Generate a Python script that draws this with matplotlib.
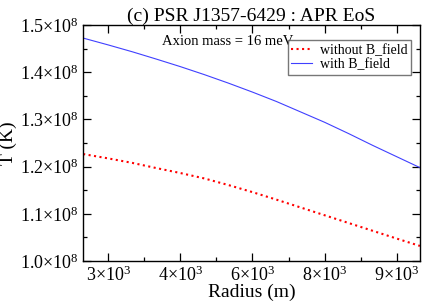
import numpy as np
import matplotlib
matplotlib.use('Agg')
import matplotlib.pyplot as plt
from matplotlib.ticker import FixedLocator, FixedFormatter, MultipleLocator

plt.rcParams['font.family'] = 'Liberation Serif'
plt.rcParams['mathtext.fontset'] = 'custom'
plt.rcParams['mathtext.rm'] = 'Liberation Serif'
plt.rcParams['mathtext.it'] = 'Liberation Serif:italic'

# ---------------------------- data

radius = [2480, 3000, 3500, 4000, 4500, 5000, 5500, 6000, 6500, 7000,
          7500, 8000, 8500, 9000, 9480]
T_no_B = [1.2267e8, 1.2175e8, 1.208e8, 1.197e8, 1.1865e8, 1.175e8, 1.161e8, 1.146e8,
          1.130e8, 1.1135e8, 1.097e8, 1.0805e8, 1.064e8, 1.0475e8, 1.032e8]
T_with_B = [1.4725e8, 1.458e8, 1.4435e8, 1.428e8, 1.412e8, 1.395e8, 1.377e8, 1.358e8,
            1.338e8, 1.316e8, 1.294e8, 1.270e8, 1.245e8, 1.221e8, 1.198e8]

xticks = [3000, 4500, 6000, 7500, 9000]
xtick_labels = ['3×10$^{3}$', '4×10$^{3}$', '6×10$^{3}$', '8×10$^{3}$', '9×10$^{3}$']
yticks = [1.0e8, 1.1e8, 1.2e8, 1.3e8, 1.4e8, 1.5e8]
ytick_labels = ['1.0×10$^{8}$', '1.1×10$^{8}$', '1.2×10$^{8}$',
                '1.3×10$^{8}$', '1.4×10$^{8}$', '1.5×10$^{8}$']

# ----------------------------

fig = plt.figure(figsize=(4.22, 3.06), dpi=100)
ax = fig.add_axes([0.197, 0.147, 0.798, 0.771])

ax.plot(radius, T_no_B, ':', color='red', lw=1.5, label='without B_field')
ax.plot(radius, T_with_B, '-', color='#4040ff', lw=0.8, label='with B_field')

ax.set_xlim(2480, 9480)
ax.set_ylim(1.0e8, 1.5e8)

ax.xaxis.set_major_locator(FixedLocator(xticks))
ax.xaxis.set_major_formatter(FixedFormatter(xtick_labels))
ax.xaxis.set_minor_locator(MultipleLocator(750))
ax.yaxis.set_major_locator(FixedLocator(yticks))
ax.yaxis.set_major_formatter(FixedFormatter(ytick_labels))
ax.yaxis.set_minor_locator(MultipleLocator(0.05e8))

ax.tick_params(which='both', direction='in', top=True, right=True, labelsize=13)
ax.tick_params(which='major', length=6, width=0.9, pad=3)
ax.tick_params(which='minor', length=3, width=0.9)
for s in ax.spines.values():
    s.set_linewidth(1.0)

ax.set_xlabel('Radius (m)', fontsize=14, labelpad=-1)
ax.set_ylabel('T (K)', fontsize=14)
ax.yaxis.set_label_coords(-0.195, 0.5)
ax.set_title('(c) PSR J1357-6429 : APR EoS', fontsize=14, pad=3)

ax.text(0.234, 0.932, 'Axion mass = 16 meV', transform=ax.transAxes, fontsize=10.5,
        va='center')

leg = ax.legend(loc='upper right', bbox_to_anchor=(0.975, 0.935), fontsize=10,
                frameon=True, fancybox=False, edgecolor='#555555',
                handlelength=1.5, handletextpad=0.6, borderpad=0.25,
                labelspacing=0.1, borderaxespad=0)
leg.get_frame().set_linewidth(1.0)

fig.savefig('out.png', dpi=100)
